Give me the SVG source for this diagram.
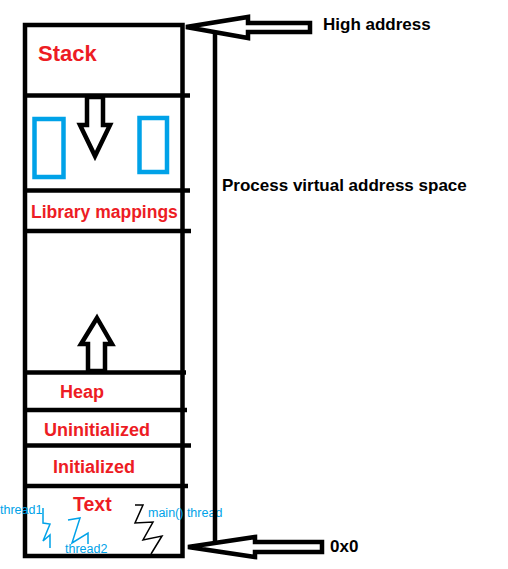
<svg xmlns="http://www.w3.org/2000/svg" width="508" height="569" viewBox="0 0 508 569">
<style>
.ln{stroke:#000;stroke-width:4.5;fill:none}
.arr{stroke:#000;stroke-width:4.5;fill:#fff;stroke-linejoin:miter}
.lbl{font-family:"Liberation Sans",Arial,sans-serif;font-weight:bold;fill:#ED1C24}
.blk{font-family:"Liberation Sans",Arial,sans-serif;font-weight:bold;fill:#000;font-size:17px}
.thr{font-family:"Liberation Sans",Arial,sans-serif;fill:#00A2E8;font-size:12.5px}
.brect{fill:none;stroke:#00A2E8;stroke-width:4.5}
.sq{fill:none;stroke-width:1.5}
</style>
<rect width="508" height="569" fill="#fff"/>
<g id="memory-box">
<rect x="25" y="25" width="157.5" height="531" class="ln"/>
</g>
<g id="stack">
<text x="38" y="61" class="lbl" font-size="22">Stack</text>
</g>
<g id="stack-grow">
<polygon points="87,97 103,97 103,125 110,125 95,156 80,125 87,125" class="arr"/>
<rect x="34.5" y="119" width="29" height="58" class="brect"/>
<rect x="139.5" y="118" width="27.5" height="54" class="brect"/>
</g>
<g id="library">
<text x="31" y="218" class="lbl" font-size="17.5">Library mappings</text>
</g>
<g id="heap-grow">
<polygon points="97,318 112,344 105,344 105,371 88,371 88,344 81,344" class="arr"/>
</g>
<g id="heap"><text x="60" y="398" class="lbl" font-size="18">Heap</text></g>
<g id="uninit"><text x="44" y="436" class="lbl" font-size="18">Uninitialized</text></g>
<g id="init"><text x="53" y="473" class="lbl" font-size="18">Initialized</text></g>
<g id="text-seg">
<text x="73" y="511" class="lbl" font-size="19.5">Text</text>
<text x="0" y="514" class="thr">thread1</text>
<text x="65" y="553" class="thr">thread2</text>
<text x="148" y="517" class="thr">main() thread</text>
<polyline points="43,508 43,523 50,524 43,541 50,535 50,548" class="sq" stroke="#00A2E8"/>
<polyline points="68,520 80,518 72,543 88,533 88,544" class="sq" stroke="#00A2E8"/>
<polyline points="135,505 143,505 135,523 153,522 143,540 162,536 151,554" class="sq" stroke="#000"/>
</g>
<g id="high-address">
<polygon points="186,27 248,17 248,23 310,23 310,32 248,32 248,38" class="arr"/>
<text x="323" y="30" class="blk">High address</text>
</g>
<g id="zero-address">
<polygon points="188,547 255,537 255,542 322,542 322,552 255,552 255,557" class="arr"/>
<text x="330" y="552" class="blk">0x0</text>
</g>
<g id="address-space">
<text x="222" y="191" class="blk">Process virtual address space</text>
</g>
<g id="connectors">
<line x1="25" y1="95.5" x2="190" y2="95.5" class="ln"/>
<line x1="25" y1="190.5" x2="190" y2="190.5" class="ln"/>
<line x1="25" y1="231" x2="191" y2="231" class="ln"/>
<line x1="25" y1="372.5" x2="186" y2="372.5" class="ln"/>
<line x1="25" y1="410" x2="187" y2="410" class="ln"/>
<line x1="25" y1="445.5" x2="191" y2="445.5" class="ln"/>
<line x1="25" y1="486" x2="188" y2="486" class="ln"/>
<line x1="215" y1="31" x2="215" y2="542" class="ln"/>
</g>
</svg>
